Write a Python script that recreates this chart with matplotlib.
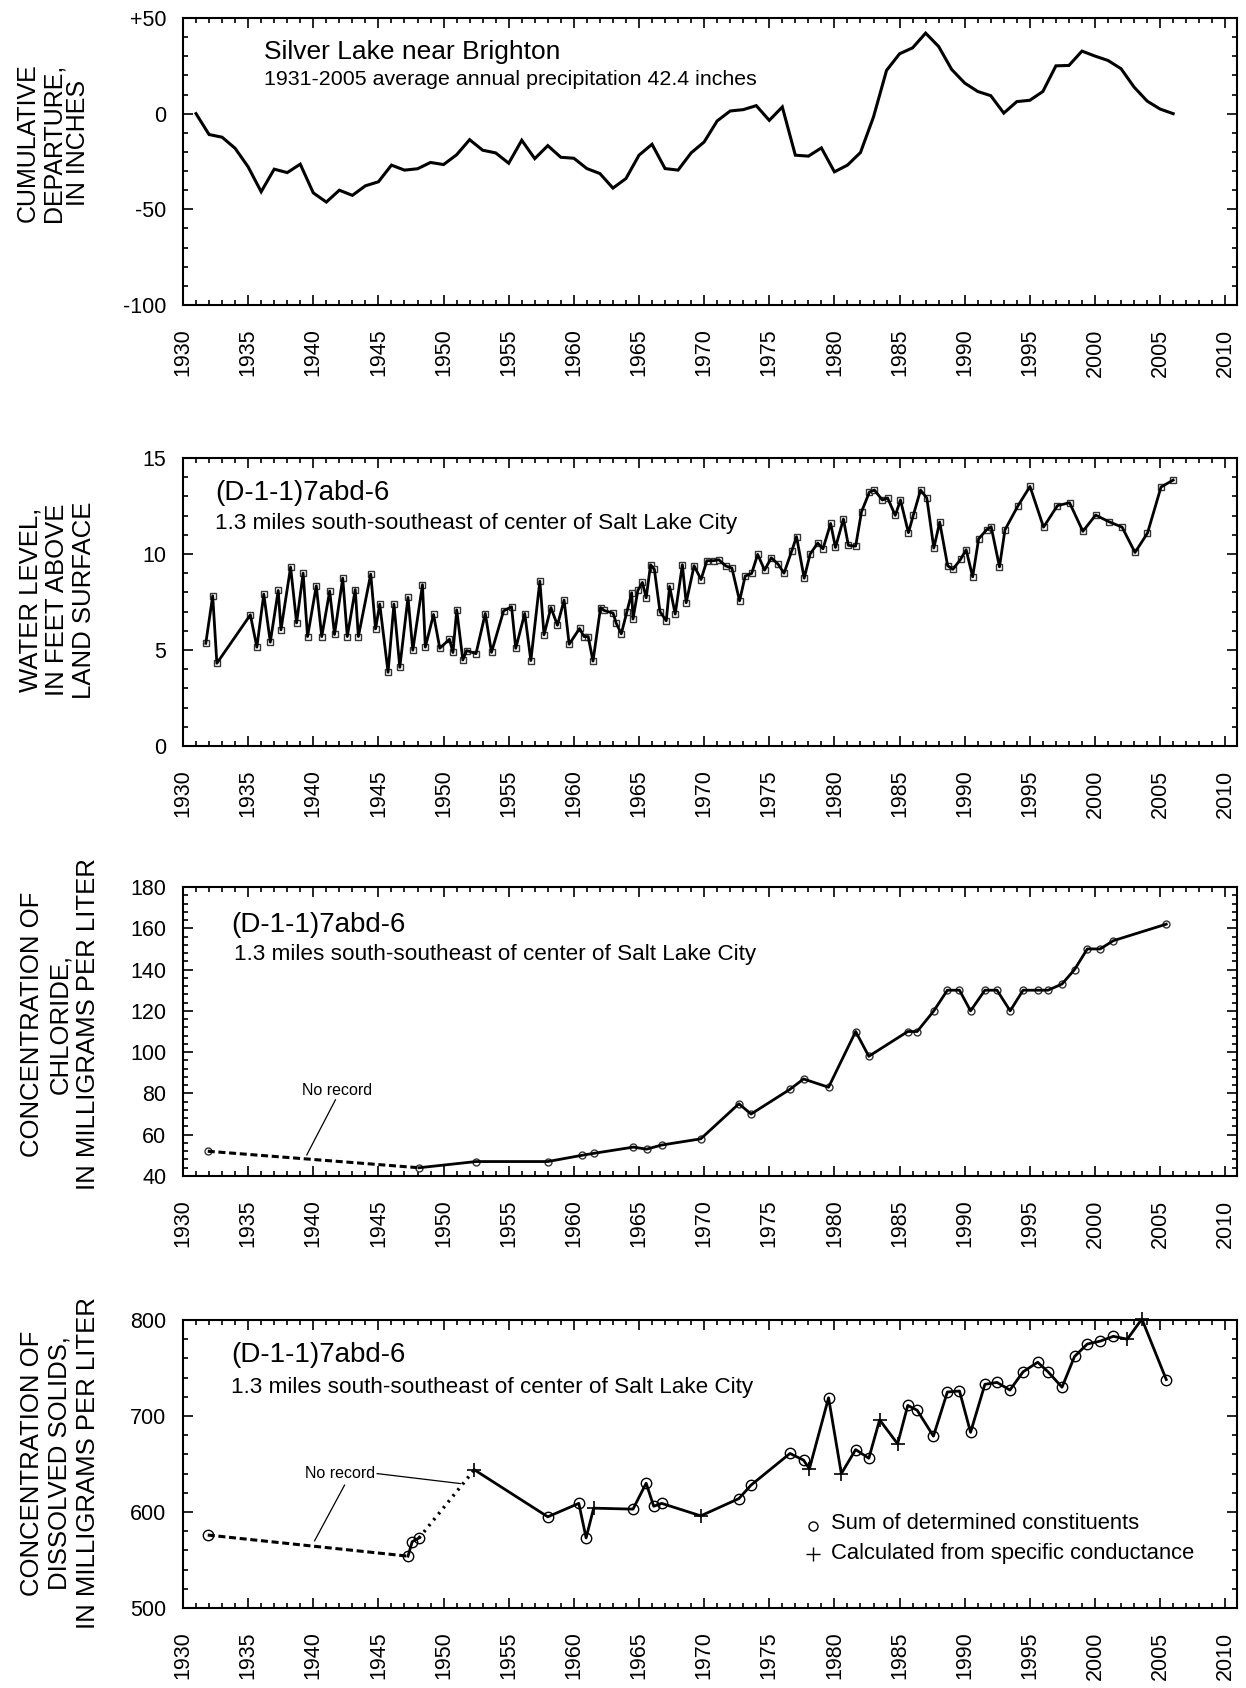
import matplotlib
matplotlib.use("Agg")
import matplotlib.pyplot as plt
from matplotlib.ticker import MultipleLocator, FuncFormatter

plt.rcParams['font.family'] = ['Liberation Sans', 'DejaVu Sans']
plt.rcParams['axes.unicode_minus'] = False

# ---------------- data ----------------
# Cumulative departure from 1931-2005 average precipitation, Silver Lake near Brighton
precip_years = list(range(1931, 2007))
precip_departure = [
    0, -10.9, -12.3, -18.1, -27.8, -40.8, -29.0, -30.8, -26.4, -41.4,
    -46.2, -40.0, -42.7, -37.7, -35.6, -26.9, -29.5, -28.8, -25.5, -26.6,
    -21.5, -13.6, -19.1, -20.5, -25.9, -13.9, -23.5, -16.7, -22.8, -23.3,
    -28.7, -31.3, -38.9, -33.9, -21.7, -16.0, -28.7, -29.5, -20.5, -14.8,
    -3.8, 1.4, 2.1, 4.2, -3.5, 3.5, -21.7, -22.2, -17.9, -30.4,
    -26.9, -20.3, -1.7, 22.6, 31.3, 34.4, 42.1, 35.1, 23.1, 16.0,
    11.6, 9.4, 0.3, 6.3, 7.0, 11.6, 25.0, 25.2, 32.7, 30.1,
    27.8, 23.5, 13.9, 6.6, 2.4, 0,
]

# Water level in well (D-1-1)7abd-6, feet above land surface
wl_dates = [
    1931.75, 1932.28, 1932.60, 1935.17, 1935.67, 1936.20, 1936.70, 1937.31, 1937.52, 1938.26,
    1938.72, 1939.22, 1939.56, 1940.23, 1940.65, 1941.26, 1941.63, 1942.26, 1942.61, 1943.22,
    1943.46, 1944.41, 1944.78, 1945.10, 1945.74, 1946.19, 1946.64, 1947.27, 1947.64, 1948.38,
    1948.60, 1949.23, 1949.71, 1950.45, 1950.72, 1951.01, 1951.48, 1951.77, 1952.49, 1953.20,
    1953.68, 1954.61, 1955.22, 1955.54, 1956.23, 1956.70, 1957.39, 1957.71, 1958.24, 1958.74,
    1959.25, 1959.64, 1960.44, 1960.78, 1961.10, 1961.47, 1962.05, 1962.32, 1963.01, 1963.25,
    1963.64, 1964.07, 1964.44, 1964.54, 1964.91, 1965.26, 1965.55, 1965.89, 1966.18, 1966.61,
    1967.09, 1967.35, 1967.78, 1968.33, 1968.62, 1969.23, 1969.76, 1970.21, 1970.72, 1971.12,
    1971.68, 1972.13, 1972.72, 1973.15, 1973.65, 1974.11, 1974.64, 1975.15, 1975.68, 1976.13,
    1976.72, 1977.09, 1977.68, 1978.13, 1978.72, 1979.12, 1979.71, 1980.08, 1980.69, 1981.07,
    1981.63, 1982.08, 1982.69, 1983.07, 1983.68, 1984.08, 1984.67, 1985.07, 1985.68, 1986.05,
    1986.61, 1987.09, 1987.63, 1988.08, 1988.69, 1989.09, 1989.68, 1990.11, 1990.61, 1991.07,
    1991.68, 1992.03, 1992.67, 1993.09, 1994.08, 1995.01, 1996.05, 1997.12, 1998.05, 1999.07,
    2000.05, 2001.07, 2002.08, 2003.07, 2004.03, 2005.07, 2006.00,
]
wl_feet = [
    5.35, 7.82, 4.31, 6.83, 5.15, 7.91, 5.41, 8.10, 6.05, 9.32,
    6.41, 9.00, 5.70, 8.34, 5.70, 8.07, 5.81, 8.74, 5.70, 8.15,
    5.70, 8.95, 6.10, 7.39, 3.84, 7.39, 4.10, 7.74, 4.99, 8.40,
    5.15, 6.85, 5.09, 5.56, 4.87, 7.09, 4.48, 4.97, 4.81, 6.90,
    4.88, 7.04, 7.25, 5.09, 6.90, 4.45, 8.59, 5.79, 7.21, 6.29,
    7.60, 5.30, 6.12, 5.70, 5.70, 4.42, 7.21, 7.06, 6.92, 6.40,
    5.84, 6.99, 7.98, 6.61, 8.10, 8.52, 7.72, 9.44, 9.20, 7.00,
    6.52, 8.31, 6.87, 9.44, 7.46, 9.39, 8.67, 9.65, 9.65, 9.70,
    9.37, 9.27, 7.56, 8.85, 8.99, 9.98, 9.16, 9.80, 9.47, 9.00,
    10.15, 10.90, 8.74, 9.99, 10.57, 10.27, 11.59, 10.34, 11.82, 10.45,
    10.41, 12.20, 13.23, 13.33, 12.81, 12.92, 12.01, 12.81, 11.11, 12.01,
    13.33, 12.92, 10.31, 11.66, 9.39, 9.20, 9.72, 10.22, 8.81, 10.79,
    11.26, 11.42, 9.33, 11.26, 12.50, 13.52, 11.40, 12.52, 12.67, 11.18,
    12.03, 11.68, 11.40, 10.08, 11.09, 13.49, 13.85,
]

# Chloride concentration, mg/L
cl_dates = [
    1931.90, 1948.12, 1952.49, 1958.00, 1960.60, 1961.55, 1964.57, 1965.58, 1966.74, 1969.74,
    1972.67, 1973.60, 1976.59, 1977.63, 1979.55, 1981.63, 1982.64, 1985.63, 1986.35, 1987.63,
    1988.67, 1989.60, 1990.45, 1991.55, 1992.48, 1993.49, 1994.48, 1995.60, 1996.40, 1997.47,
    1998.43, 1999.41, 2000.40, 2001.41, 2005.47,
]
cl_mgl = [
    52, 44, 47, 47, 50, 51, 54, 53, 55, 58,
    75, 70, 82, 87, 83, 110, 98, 110, 110, 120,
    130, 130, 120, 130, 130, 120, 130, 130, 130, 133,
    140, 150, 150, 154, 162,
]

# Dissolved-solids concentration, mg/L; method: 'sum' = sum of determined
# constituents, 'sc' = calculated from specific conductance
ds_dates = [
    1931.90, 1947.27, 1947.59, 1948.12, 1952.36, 1958.00, 1960.38, 1960.94, 1961.52, 1964.54,
    1965.55, 1966.13, 1966.74, 1969.74, 1972.67, 1973.60, 1976.59, 1977.63, 1978.08, 1979.55,
    1980.53, 1981.63, 1982.64, 1983.47, 1984.85, 1985.63, 1986.35, 1987.60, 1988.67, 1989.60,
    1990.45, 1991.55, 1992.48, 1993.47, 1994.48, 1995.60, 1996.40, 1997.47, 1998.43, 1999.41,
    2000.40, 2001.41, 2002.48, 2003.60, 2005.47,
]
ds_mgl = [
    576, 554, 569, 573, 644, 595, 609, 573, 604, 603,
    630, 606, 609, 596, 614, 628, 661, 654, 645, 719,
    640, 665, 656, 696, 671, 711, 706, 679, 725, 726,
    683, 733, 735, 727, 746, 756, 746, 730, 762, 775,
    778, 783, 780, 801, 738,
]
ds_method = [
    'sum', 'sum', 'sum', 'sum', 'sc', 'sum', 'sum', 'sum', 'sc', 'sum',
    'sum', 'sum', 'sum', 'sc', 'sum', 'sum', 'sum', 'sum', 'sc', 'sum',
    'sc', 'sum', 'sum', 'sc', 'sc', 'sum', 'sum', 'sum', 'sum', 'sum',
    'sum', 'sum', 'sum', 'sum', 'sum', 'sum', 'sum', 'sum', 'sum', 'sum',
    'sum', 'sum', 'sc', 'sc', 'sum',
]

site_name = "(D-1-1)7abd-6"
site_desc = "1.3 miles south-southeast of center of Salt Lake City"

# ---------------- figure ----------------
W, H = 1246, 1688
fig = plt.figure(figsize=(W / 100, H / 100), dpi=100)

LEFT, RIGHT = 183, 1237


def add_panel(top, bottom):
    return fig.add_axes([LEFT / W, 1 - bottom / H, (RIGHT - LEFT) / W, (bottom - top) / H])


def style(ax, ylim, ymajor, yminor, yfmt=None):
    ax.set_xlim(1930, 2010.9)
    ax.set_ylim(*ylim)
    ax.xaxis.set_major_locator(MultipleLocator(5))
    ax.xaxis.set_minor_locator(MultipleLocator(1))
    ax.yaxis.set_major_locator(MultipleLocator(ymajor))
    ax.yaxis.set_minor_locator(MultipleLocator(yminor))
    ax.xaxis.set_major_formatter(FuncFormatter(lambda v, p: f"{int(round(v))}"))
    if yfmt is None:
        ax.yaxis.set_major_formatter(FuncFormatter(lambda v, p: f"{int(round(v))}"))
    else:
        ax.yaxis.set_major_formatter(FuncFormatter(yfmt))
    ax.tick_params(which='both', direction='in', top=True, right=True,
                   width=1.2, color='black', labelsize=15.5)
    ax.tick_params(which='major', length=7.5)
    ax.tick_params(which='minor', length=3.5)
    ax.tick_params(axis='x', which='major', pad=17, labelrotation=90)
    ax.tick_params(axis='y', which='major', pad=12)
    for s in ax.spines.values():
        s.set_linewidth(1.5)


def ylabel(text, xpx, ypx, spacing, size=18.5):
    fig.text(xpx / W, 1 - ypx / H, text, rotation=90, ha='center', va='center',
             multialignment='center', fontsize=size, linespacing=spacing)


TITLE_FS = 20
SUB_FS = 16.2

# Panel 1: cumulative departure from average precipitation
ax1 = add_panel(18, 305)
ax1.plot(precip_years, precip_departure, color='black', lw=2.2, solid_joinstyle='miter')
style(ax1, (-100, 50), 50, 10,
      yfmt=lambda v, p: f"+{int(v)}" if v > 0 else f"{int(round(v))}")
ax1.text(0.0769, 0.882, "Silver Lake near Brighton", transform=ax1.transAxes,
         fontsize=19, va='center', ha='left')
ax1.text(0.0769, 0.784, "1931-2005 average annual precipitation 42.4 inches",
         transform=ax1.transAxes, fontsize=15.4, va='center', ha='left')
ylabel("CUMULATIVE\nDEPARTURE,\nIN INCHES", 53, 143, 1.05, size=18)

# Panel 2: water level
ax2 = add_panel(458, 746)
ax2.plot(wl_dates, wl_feet, ls='none', marker='s', ms=5, mfc='white',
         mec='#333333', mew=1.0, zorder=2)
ax2.plot(wl_dates, wl_feet, color='black', lw=2.0, zorder=3)
style(ax2, (0, 15), 5, 1)
ax2.text(0.0304, 0.878, site_name, transform=ax2.transAxes,
         fontsize=TITLE_FS, va='center', ha='left')
ax2.text(0.0304, 0.774, site_desc, transform=ax2.transAxes,
         fontsize=SUB_FS, va='center', ha='left')
ylabel("WATER LEVEL,\nIN FEET ABOVE\nLAND SURFACE", 57, 600, 1.15)

# Panel 3: chloride
ax3 = add_panel(887, 1176)
ax3.plot(cl_dates[:2], cl_mgl[:2], color='black', lw=2.2, ls=(0, (2.3, 1.2)), zorder=3)
ax3.plot(cl_dates[1:], cl_mgl[1:], color='black', lw=2.0, zorder=3)
ax3.plot(cl_dates, cl_mgl, ls='none', marker='o', ms=5, mfc='white',
         mec='#333333', mew=1.0, zorder=2)
style(ax3, (40, 180), 20, 4)
ax3.text(0.046, 0.868, site_name, transform=ax3.transAxes,
         fontsize=TITLE_FS, va='center', ha='left')
ax3.text(0.048, 0.765, site_desc, transform=ax3.transAxes,
         fontsize=SUB_FS, va='center', ha='left')
ax3.text(1941.8, 81.2, "No record", fontsize=11.5, ha='center', va='center')
ax3.plot([1941.7, 1939.5], [76.9, 50.2], color='black', lw=0.9)
ylabel("CONCENTRATION OF\nCHLORIDE,\nIN MILLIGRAMS PER LITER", 60, 1024, 1.2)

# Panel 4: dissolved solids
ax4 = add_panel(1320, 1608)
ax4.plot(ds_dates[0:2], ds_mgl[0:2], color='black', lw=2.2, ls=(0, (2.3, 1.2)))
ax4.plot(ds_dates[1:4], ds_mgl[1:4], color='black', lw=2.0)
ax4.plot(ds_dates[3:5], ds_mgl[3:5], color='black', lw=2.4, ls=(0, (0.7, 1.6)))
ax4.plot(ds_dates[4:], ds_mgl[4:], color='black', lw=2.0)
sum_x = [d for d, m in zip(ds_dates, ds_method) if m == 'sum']
sum_y = [v for v, m in zip(ds_mgl, ds_method) if m == 'sum']
sc_x = [d for d, m in zip(ds_dates, ds_method) if m == 'sc']
sc_y = [v for v, m in zip(ds_mgl, ds_method) if m == 'sc']
ax4.plot(sum_x, sum_y, ls='none', marker='o', ms=7.5, mfc='none', mec='black',
         mew=1.0, clip_on=False)
ax4.plot(sc_x, sc_y, ls='none', marker='+', ms=10, mec='black', mew=1.2,
         clip_on=False)
style(ax4, (500, 800), 100, 20)
ax4.text(0.046, 0.878, site_name, transform=ax4.transAxes,
         fontsize=TITLE_FS, va='center', ha='left')
ax4.text(0.046, 0.764, site_desc, transform=ax4.transAxes,
         fontsize=SUB_FS, va='center', ha='left')
ax4.text(1942.05, 640, "No record", fontsize=11.5, ha='center', va='center')
ax4.plot([1944.9, 1951.3], [640, 629.6], color='black', lw=0.9)
ax4.plot([1942.4, 1940.1], [628, 570], color='black', lw=0.9)

# key
ax4.plot([0.598], [0.285], transform=ax4.transAxes, ls='none', marker='o', ms=6.5,
         mfc='none', mec='black', mew=1.0)
ax4.plot([0.598], [0.1875], transform=ax4.transAxes, ls='none', marker='+', ms=10,
         mec='black', mew=1.0)
ax4.text(0.615, 0.293, "Sum of determined constituents", transform=ax4.transAxes,
         fontsize=15.8, va='center', ha='left')
ax4.text(0.615, 0.1875, "Calculated from specific conductance", transform=ax4.transAxes,
         fontsize=15.8, va='center', ha='left')
ylabel("CONCENTRATION OF\nDISSOLVED SOLIDS,\nIN MILLIGRAMS PER LITER", 60, 1463, 1.2)

fig.savefig("out.png", dpi=100)
